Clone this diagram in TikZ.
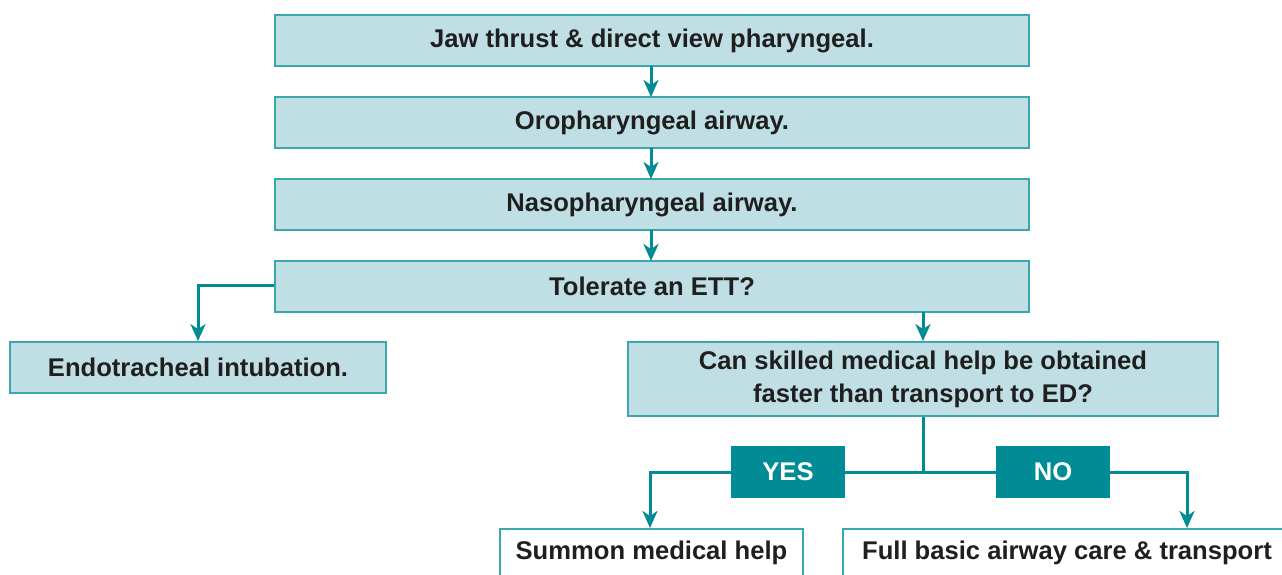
\documentclass[tikz,border=0pt]{standalone}
\usepackage{fontspec}
\setmainfont{Liberation Sans}
\usetikzlibrary{arrows.meta}
\definecolor{boxfill}{HTML}{C0DFE4}
\definecolor{boxline}{HTML}{3AA6B0}
\definecolor{teal}{HTML}{008B95}
\tikzset{
  txt/.style={font=\fontsize{25.6}{33}\selectfont\bfseries, text=black!88},
  stepbox/.style={txt, draw=boxline, line width=1.8pt, fill=boxfill, inner sep=0pt, align=center},
  endbox/.style={draw=boxline, line width=1.8pt, fill=white, inner sep=0pt},
  labbox/.style={fill=teal, text=white, inner sep=0pt, font=\fontsize{25.6}{33}\selectfont\bfseries},
  conn/.style={draw=teal, line width=3pt, -{Stealth[length=17pt, width=15pt, inset=5pt]}},
  plain/.style={draw=teal, line width=3pt}
}
\begin{document}
\begin{tikzpicture}[x=1pt, y=-1pt]
\useasboundingbox (0,0) rectangle (1282,574);
\clip (0,0) rectangle (1282,574);
% main column
\node[stepbox, minimum width=754pt, minimum height=51pt] (b1) at (652,40.5) {Jaw thrust \& direct view pharyngeal.};
\node[stepbox, minimum width=754pt, minimum height=51pt] (b2) at (652,122.5) {Oropharyngeal airway.};
\node[stepbox, minimum width=754pt, minimum height=51pt] (b3) at (652,204.5) {Nasopharyngeal airway.};
\node[stepbox, minimum width=754pt, minimum height=51pt] (b4) at (652,286.5) {Tolerate an ETT?};
\node[stepbox, minimum width=376pt, minimum height=51pt] (endo) at (198,367.5) {Endotracheal intubation.};
\node[stepbox, minimum width=590pt, minimum height=74pt] (skill) at (923,379) {Can skilled medical help be obtained\\faster than transport to ED?};
\node[endbox, minimum width=303pt, minimum height=60pt, anchor=north] (summon) at (651.5,528) {};
\node[txt] (summontxt) at (651.5,553) {Summon medical help};
\node[endbox, minimum width=460pt, minimum height=60pt, anchor=north west] (full) at (842,528) {};
\node[txt] (fulltxt) at (1067,553) {Full basic airway care \& transport};
\node[labbox, minimum width=114pt, minimum height=52pt] (yes) at (788,472) {YES};
\node[labbox, minimum width=114pt, minimum height=52pt] (no) at (1053,472) {NO};
\coordinate (split) at (923,472);
% connectors
\draw[conn] (651,66) -- (651,97);
\draw[conn] (651,148) -- (651,179);
\draw[conn] (651,230) -- (651,261);
\draw[conn] (b4.west |- 0,285) -| (endo.north -| 198,0);
\draw[conn] (923,312) -- (skill.north);
\draw[plain] (skill.south -| split) -- (split);
\draw[plain] (split) -- (yes.east);
\draw[plain] (split) -- (no.west);
\draw[conn] (yes.west) -| (summon.north -| 650,0);
\draw[conn] (no.east) -| (full.north -| 1187,0);
\end{tikzpicture}
\end{document}
